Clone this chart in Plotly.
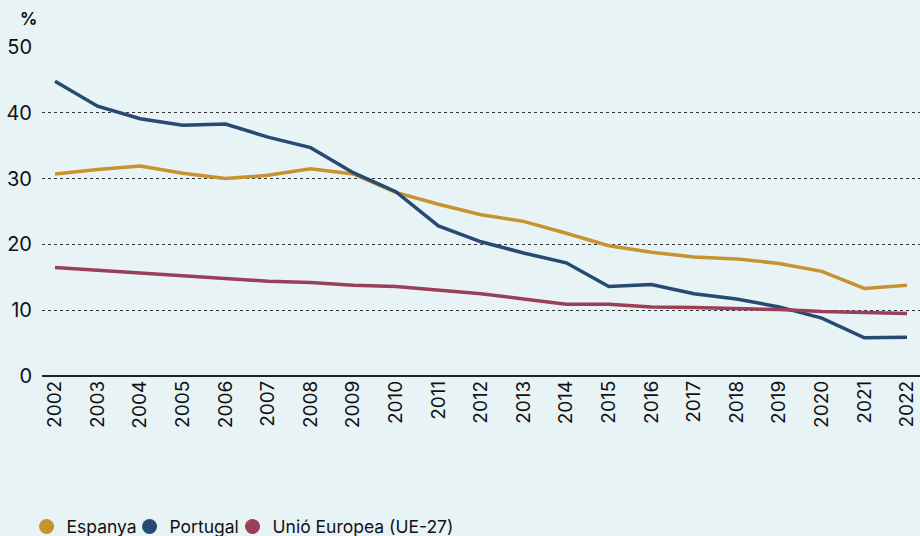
import plotly.graph_objects as go

years = list(range(2002, 2023))
espanya = [30.7, 31.4, 31.9, 30.8, 30.0, 30.5, 31.5, 30.7, 27.9, 26.1, 24.5, 23.5,
           21.7, 19.8, 18.8, 18.1, 17.8, 17.1, 15.9, 13.3, 13.8]
portugal = [44.8, 41.0, 39.1, 38.1, 38.3, 36.3, 34.7, 30.9, 28.0, 22.8, 20.4, 18.7,
            17.2, 13.6, 13.9, 12.5, 11.7, 10.5, 8.8, 5.8, 5.9]
ue27 = [16.5, 16.1, 15.6, 15.2, 14.8, 14.4, 14.2, 13.8, 13.6, 13.0, 12.5, 11.7,
        10.9, 10.9, 10.5, 10.4, 10.3, 10.1, 9.8, 9.7, 9.5]
names = ["Espanya", "Portugal", "Unió Europea (UE-27)"]
colors = ["#C8922E", "#264A72", "#9A3F57"]
y_ticks = [0, 10, 20, 30, 40, 50]

FONT = "Inter, Lato, sans-serif"
BG = "#E8F3F6"

fig = go.Figure()
for name, vals, col in zip(names, [espanya, portugal, ue27], colors):
    fig.add_trace(go.Scatter(x=years, y=vals, mode="lines", name=name,
                             line=dict(color=col, width=3.5), showlegend=False,
                             hoverinfo="x+y"))
legend_ids = ["legend", "legend2", "legend3"]
legend_x = [-0.0176, 0.0997, 0.2170]
for name, col, lid in zip(names, colors, legend_ids):
    fig.add_trace(go.Scatter(x=[None], y=[None], mode="markers", name=name,
                             legend=lid,
                             marker=dict(color=col, size=15, symbol="circle")))

legend_common = dict(orientation="h", xanchor="left", y=-0.458, yanchor="middle",
                     font=dict(size=17.5, family=FONT, color="#111111"),
                     itemwidth=30, bgcolor="rgba(0,0,0,0)")

fig.update_layout(
    width=920, height=536,
    paper_bgcolor=BG, plot_bgcolor=BG,
    margin=dict(l=42, r=0, t=47, b=160, autoexpand=False),
    font=dict(family=FONT, color="#111111", size=16),
    showlegend=True,
    legend=dict(x=legend_x[0], **legend_common),
    legend2=dict(x=legend_x[1], **legend_common),
    legend3=dict(x=legend_x[2], **legend_common),
    xaxis=dict(
        range=[2001.695, 2022.305], tickmode="array", tickvals=years,
        ticktext=[str(y) for y in years], tickangle=-90,
        showgrid=False, zeroline=False, showline=False, ticks="",
        tickfont=dict(size=19, family=FONT, color="#111111"),
    ),
    yaxis=dict(
        range=[0, 50], tickmode="array", tickvals=y_ticks,
        showgrid=True, gridcolor="#333333", griddash="dot", gridwidth=1,
        zeroline=True, zerolinecolor="#222222", zerolinewidth=1.5,
        showline=False, ticks="", ticklabelstandoff=9,
        tickfont=dict(size=20, family=FONT, color="#111111"),
    ),
    annotations=[dict(text="<b>%</b>", xref="paper", yref="paper", x=-0.003, y=1.085,
                      xanchor="right", yanchor="middle", showarrow=False,
                      font=dict(size=17, family=FONT, color="#111111"))],
)

fig.write_html("out.html", config={"displayModeBar": False},
               post_script="document.body.style.margin='0';document.body.style.overflow='hidden';")
